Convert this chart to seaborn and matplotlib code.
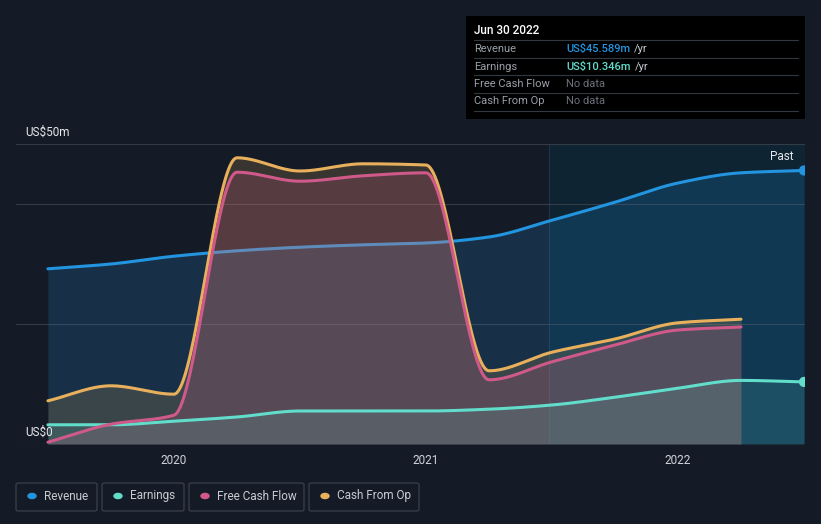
import numpy as np
import pandas as pd
import seaborn as sns
from matplotlib import pyplot as plt
from matplotlib.patches import Rectangle, FancyBboxPatch

# quarterly values, US$m
quarters = [2019.5, 2019.75, 2020.0, 2020.25, 2020.5, 2020.75, 2021.0,
            2021.25, 2021.5, 2021.75, 2022.0, 2022.25, 2022.5]
revenue = [29.2, 30.0, 31.3, 32.2, 32.8, 33.2, 33.5, 34.5, 37.3, 40.3, 43.5, 45.2, 45.589]
earnings = [3.2, 3.2, 3.8, 4.5, 5.5, 5.5, 5.5, 5.8, 6.5, 7.8, 9.3, 10.6, 10.346]
free_cash_flow = [0.3, 3.3, 4.8, 45.3, 43.8, 44.7, 45.2, 10.7, 13.7, 16.5, 19.0, 19.5]
cash_from_op = [7.2, 9.7, 8.3, 47.7, 45.5, 46.7, 46.5, 12.2, 15.3, 17.5, 20.2, 20.8]

BG = '#151b26'
COLORS = {'Revenue': '#2394df', 'Earnings': '#62dccb',
          'Free Cash Flow': '#cf5a8a', 'Cash From Op': '#e8b05c'}


def pchip(x, y, xs):
    # monotone cubic smoothing for drawing only
    x = np.asarray(x, float)
    y = np.asarray(y, float)
    h = np.diff(x)
    d = np.diff(y) / h
    m = np.zeros_like(y)
    for i in range(1, len(y) - 1):
        if d[i - 1] * d[i] > 0:
            w1 = 2 * h[i] + h[i - 1]
            w2 = h[i] + 2 * h[i - 1]
            m[i] = (w1 + w2) / (w1 / d[i - 1] + w2 / d[i])
    m[0] = d[0]
    m[-1] = d[-1]
    idx = np.clip(np.searchsorted(x, xs) - 1, 0, len(x) - 2)
    t = (xs - x[idx]) / h[idx]
    h00 = 2 * t**3 - 3 * t**2 + 1
    h10 = t**3 - 2 * t**2 + t
    h01 = -2 * t**3 + 3 * t**2
    h11 = t**3 - t**2
    return h00 * y[idx] + h10 * h[idx] * m[idx] + h01 * y[idx + 1] + h11 * h[idx] * m[idx + 1]


series = {'Revenue': revenue, 'Earnings': earnings,
          'Free Cash Flow': free_cash_flow, 'Cash From Op': cash_from_op}

frames = []
for name, vals in series.items():
    xq = quarters[:len(vals)]
    xs = np.linspace(xq[0], xq[-1], 400)
    frames.append(pd.DataFrame({'date': xs, 'value': pchip(xq, vals, xs), 'metric': name}))
df = pd.concat(frames, ignore_index=True)

sns.set_style('dark')
plt.rcParams['font.family'] = ['Roboto', 'DejaVu Sans']
fig = plt.figure(figsize=(8.21, 5.24), dpi=100, facecolor=BG)
ax = fig.add_axes([16 / 821, 80 / 524, 789 / 821, 300 / 524])
ax.set_facecolor(BG)

x_left = 2019.5 - 32 / 252.5
x_right = 2022.5 + 1 / 252.5
ax.set_xlim(x_left, x_right)
ax.set_ylim(0, 50)

# past region
ax.axvspan(2021.49, x_right, color='#0b2a3b', alpha=0.65, lw=0, zorder=0)
ax.axvline(2021.49, color='#1c3646', lw=0.8, zorder=0.5)

for g in [0, 20, 40, 50]:
    ax.axhline(g, color='#363c47' if g else '#444a55', lw=0.8, zorder=0.6)

fill_alpha = {'Revenue': 0.18, 'Cash From Op': 0.17, 'Free Cash Flow': 0.2, 'Earnings': 0.14}
layer = {'Revenue': 1, 'Cash From Op': 3, 'Free Cash Flow': 3.1, 'Earnings': 3.2}
for name in ['Revenue', 'Cash From Op', 'Free Cash Flow', 'Earnings']:
    sub = df[df.metric == name]
    ax.fill_between(sub.date, 0, sub.value, color=COLORS[name], alpha=fill_alpha[name],
                    lw=0, zorder=layer[name])

# revenue line sits under the cash flow fills, the others on top
sns.lineplot(data=df[df.metric == 'Revenue'], x='date', y='value', color=COLORS['Revenue'],
             lw=2.2, ax=ax, zorder=2, sort=False, estimator=None)
for name in ['Earnings', 'Cash From Op', 'Free Cash Flow']:
    sns.lineplot(data=df[df.metric == name], x='date', y='value', color=COLORS[name],
                 lw=2.2, ax=ax, zorder=4, sort=False, estimator=None)

ax.scatter([quarters[-1]] * 2, [revenue[-1], earnings[-1]],
           color=[COLORS['Revenue'], COLORS['Earnings']], s=40, zorder=5, clip_on=True)

ax.set_xticks([2020, 2021, 2022])
ax.set_xticklabels(['2020', '2021', '2022'])
ax.tick_params(axis='x', colors='#d0d4da', labelsize=8.5, length=3, width=0.6, pad=4)
ax.tick_params(axis='x', which='both', color='#555b66')
ax.set_yticks([])
ax.set_xlabel('')
ax.set_ylabel('')
for s in ax.spines.values():
    s.set_visible(False)
ax.grid(False)

fig.text(25 / 821, 1 - 132 / 524, 'US$50m', color='#e6e8eb', fontsize=8.5, va='center')
fig.text(25 / 821, 1 - 432 / 524, 'US$0', color='#e6e8eb', fontsize=8.5, va='center')
ax.text(2022.46, 48.0, 'Past', color='#e6e8eb', fontsize=8.5, ha='right', va='center')

# tooltip box
fig.patches.append(Rectangle((466 / 821, 1 - 119 / 524), 339 / 821, 103 / 524,
                             transform=fig.transFigure, facecolor='#000000', edgecolor='none'))
fig.text(474 / 821, 1 - 30 / 524, 'Jun 30 2022', color='#ffffff', fontsize=8.5,
         fontweight='medium', va='center')
rows = [('Revenue', 'US$45.589m', '#2394df', True),
        ('Earnings', 'US$10.346m', '#62dccb', True),
        ('Free Cash Flow', 'No data', '#6b7079', False),
        ('Cash From Op', 'No data', '#6b7079', False)]
renderer = fig.canvas.get_renderer()
for i, (lab, val, col, yr) in enumerate(rows):
    yc = 49 + i * 17.5
    fig.lines.append(plt.Line2D([474 / 821, 798 / 821], [1 - (yc - 9) / 524] * 2,
                                transform=fig.transFigure, color='#333740', lw=0.8))
    fig.text(474 / 821, 1 - yc / 524, lab, color='#9a9fa8', fontsize=8, va='center')
    t = fig.text(566 / 821, 1 - yc / 524, val, color=col, fontsize=8,
                 fontweight='medium' if yr else 'normal', va='center')
    if yr:
        x_end = t.get_window_extent(renderer).x1
        fig.text((x_end + 4) / 821, 1 - yc / 524, '/yr', color='#c8ccd2', fontsize=8, va='center')
fig.lines.append(plt.Line2D([474 / 821, 798 / 821], [1 - 111 / 524] * 2,
                            transform=fig.transFigure, color='#333740', lw=0.8))

# legend boxes
legend_items = [('Revenue', 16, 97), ('Earnings', 102, 184),
                ('Free Cash Flow', 189, 304), ('Cash From Op', 309, 419)]
for name, x0, x1 in legend_items:
    fig.patches.append(FancyBboxPatch((x0 / 821, 1 - 511 / 524), (x1 - x0) / 821, 28 / 524,
                                      boxstyle='round,pad=0,rounding_size=0.003',
                                      transform=fig.transFigure, facecolor='none',
                                      edgecolor='#3b404a', lw=0.9))
    fig.patches.append(plt.Circle(((x0 + 16) / 821, 1 - 496 / 524), 4 / 821,
                                  transform=fig.transFigure, color=COLORS[name]))
    fig.text((x0 + 28) / 821, 1 - 496 / 524, name, color='#c8ccd2', fontsize=8.5, va='center')

fig.savefig('out.png', dpi=100, facecolor=BG)
